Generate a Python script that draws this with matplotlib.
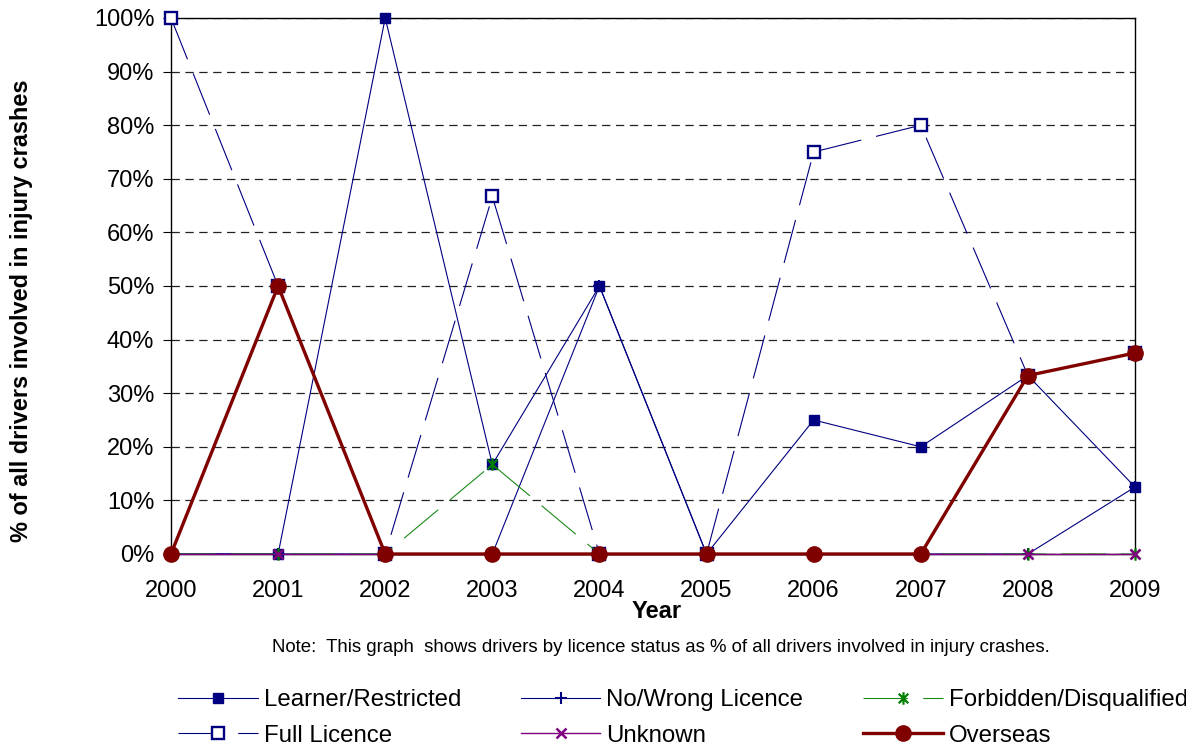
import matplotlib
matplotlib.use("Agg")
import matplotlib.pyplot as plt
from matplotlib.path import Path
from matplotlib.ticker import FuncFormatter, MultipleLocator

plt.rcParams['font.family'] = ['Liberation Sans', 'DejaVu Sans']
plt.rcParams['lines.scale_dashes'] = False

years = [2000, 2001, 2002, 2003, 2004, 2005, 2006, 2007, 2008, 2009]
learner = [0, 0, 100, 16.7, 50, 0, 25, 20, 33.3, 12.5]
no_wrong = [0, 0, 0, 0, 50, 0, 0, 0, 0, 12.5]
full_licence = [100, 50, 0, 66.7, 0, 0, 75, 80, 33.3, 37.5]
forbidden = [0, 0, 0, 16.7, 0, 0, 0, 0, 0, 0]
unknown = [0, 0, 0, 0, 0, 0, 0, 0, 0, 0]
overseas = [0, 50, 0, 0, 0, 0, 0, 0, 33.3, 37.5]

NAVY = '#000080'
GREEN = '#1a8a1a'
PURPLE = '#800080'
DRED = '#800000'

asterisk = Path([(-1, -1), (1, 1), (-1, 1), (1, -1), (0, -1.3), (0, 1.3)],
                [Path.MOVETO, Path.LINETO, Path.MOVETO, Path.LINETO, Path.MOVETO, Path.LINETO])

fig = plt.figure(figsize=(11.86, 7.49), dpi=100)
ax = fig.add_axes([171/1186, 1 - 554/749, (1135-171)/1186, (554-18)/749])

long_dash = (32, 11)

h_learner, = ax.plot(years, learner, color=NAVY, lw=0.8, marker='s', ms=7,
                     mfc=NAVY, mec=NAVY, clip_on=False, zorder=3, label='Learner/Restricted')
h_nowrong, = ax.plot(years, no_wrong, color=NAVY, lw=0.8, marker='+', ms=9, mew=1.5,
                     mfc=NAVY, mec=NAVY, clip_on=False, zorder=3, label='No/Wrong Licence')
h_full, = ax.plot(years, full_licence, color=NAVY, lw=0.8, marker='s', ms=8, mew=1.7,
                  mfc='white', mec=NAVY, clip_on=False, zorder=3, label='Full Licence')
h_full.set_dashes(long_dash)
h_forb, = ax.plot(years, forbidden, color=GREEN, lw=0.8, marker=asterisk, ms=9, mew=1.6,
                  mec='#008000', clip_on=False, zorder=4, label='Forbidden/Disqualified')
h_forb.set_dashes(long_dash)
h_unk, = ax.plot(years, unknown, color=PURPLE, lw=1.0, marker='x', ms=7, mew=1.8,
                 mec=PURPLE, clip_on=False, zorder=5, label='Unknown')
h_over, = ax.plot(years, overseas, color=DRED, lw=2.4, marker='o', ms=11,
                  mfc=DRED, mec=DRED, clip_on=False, zorder=6, label='Overseas')

ax.set_xlim(2000, 2009)
ax.set_ylim(0, 100)
ax.set_xticks(years)
ax.yaxis.set_major_locator(MultipleLocator(10))
ax.yaxis.set_major_formatter(FuncFormatter(lambda v, p: f'{int(round(v))}%'))
ax.grid(axis='y', color='#222222', lw=0.9, linestyle=(0, (6, 4)), zorder=0)
ax.set_axisbelow(True)
for s in ax.spines.values():
    s.set_color('black')
    s.set_linewidth(1.0)

ax.tick_params(axis='y', direction='out', length=6, width=0.8, pad=6, labelsize=17)
ax.tick_params(axis='x', length=0, pad=19, labelsize=17)

fig.text(657/1186, 1 - 612/749, 'Year', ha='center', va='center',
         fontsize=17, fontweight='bold')
fig.text(22/1186, 1 - 311/749, '% of all drivers involved in injury crashes', rotation=90,
         ha='center', va='center', fontsize=16.9, fontweight='bold')

fig.text(661/1186, 1 - 647/749,
         'Note:  This graph  shows drivers by licence status as % of all drivers involved in injury crashes.',
         ha='center', va='center', fontsize=13.4)

handles = [h_learner, h_full, h_nowrong, h_unk, h_forb, h_over]
labels = [h.get_label() for h in handles]
leg = fig.legend(handles, labels, ncol=3, loc='center', bbox_to_anchor=(0.576, 1 - 718/749),
                 frameon=False, fontsize=17.3, handlelength=3.3, handletextpad=0.25,
                 columnspacing=2.5, labelspacing=0.55, borderaxespad=0)

fig.savefig('out.png', dpi=100)
